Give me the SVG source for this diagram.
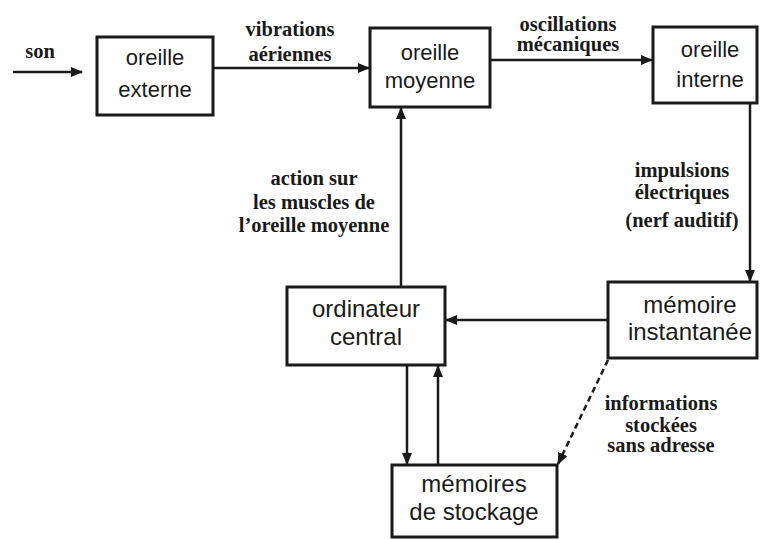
<svg xmlns="http://www.w3.org/2000/svg" width="760" height="540" viewBox="0 0 760 540">
<style>
.box{fill:#fff;stroke:#1a1a1a;stroke-width:3}
.bt{font-family:"Liberation Sans",Arial,sans-serif;font-size:22px;fill:#1a1a1a;text-anchor:middle}
.bt2{font-family:"Liberation Sans",Arial,sans-serif;font-size:24px;fill:#1a1a1a;text-anchor:middle}
.lt{font-family:"Liberation Serif","Times New Roman",serif;font-size:20.5px;fill:#1a1a1a;text-anchor:middle;font-weight:bold}
.ln{fill:none;stroke:#1a1a1a;stroke-width:2.5}
.dash{stroke-dasharray:6,4}
</style>
<defs>
<marker id="ah" viewBox="0 0 12 10" refX="11" refY="5" markerWidth="12" markerHeight="10" markerUnits="userSpaceOnUse" orient="auto">
<path d="M0,0 L12,5 L0,10 Z" fill="#1a1a1a"/>
</marker>
</defs>
<rect width="760" height="540" fill="#fff"/>
<g id="connectors">
<line class="ln" x1="13" y1="72" x2="82" y2="72" marker-end="url(#ah)"/>
<line class="ln" x1="213" y1="68" x2="369" y2="68" marker-end="url(#ah)"/>
<line class="ln" x1="490" y1="60" x2="652" y2="60" marker-end="url(#ah)"/>
<line class="ln" x1="750" y1="103" x2="750" y2="281" marker-end="url(#ah)"/>
<line class="ln" x1="608" y1="320" x2="446" y2="320" marker-end="url(#ah)"/>
<line class="ln" x1="401" y1="287" x2="401" y2="108" marker-end="url(#ah)"/>
<line class="ln" x1="407" y1="365" x2="407" y2="464" marker-end="url(#ah)"/>
<line class="ln" x1="438" y1="465" x2="438" y2="366" marker-end="url(#ah)"/>
<line class="ln dash" x1="608" y1="360" x2="558" y2="464" marker-end="url(#ah)"/>
<text class="lt" x="40" y="58">son</text>
<text class="lt" x="290" y="36">vibrations</text>
<text class="lt" x="290" y="61">aériennes</text>
<text class="lt" x="568" y="31">oscillations</text>
<text class="lt" x="568" y="51">mécaniques</text>
<text class="lt" x="314" y="185">action sur</text>
<text class="lt" x="314" y="209">les muscles de</text>
<text class="lt" x="314" y="232">l’oreille moyenne</text>
<text class="lt" x="682" y="177">impulsions</text>
<text class="lt" x="682" y="199">électriques</text>
<text class="lt" x="682" y="227">(nerf auditif)</text>
<text class="lt" x="661" y="410">informations</text>
<text class="lt" x="661" y="432">stockées</text>
<text class="lt" x="661" y="452">sans adresse</text>
</g>
<g id="oreille-externe">
<rect class="box" x="97" y="37" width="116" height="78"/>
<text class="bt" x="155" y="65">oreille</text>
<text class="bt" x="155" y="97">externe</text>
</g>
<g id="oreille-moyenne">
<rect class="box" x="370" y="28" width="120" height="79"/>
<text class="bt" x="430" y="60">oreille</text>
<text class="bt" x="430" y="88">moyenne</text>
</g>
<g id="oreille-interne">
<rect class="box" x="653" y="27" width="104" height="76"/>
<text class="bt" x="710" y="57">oreille</text>
<text class="bt" x="710" y="87">interne</text>
</g>
<g id="memoire-instantanee">
<rect class="box" x="608" y="282" width="149" height="76"/>
<text class="bt2" x="690" y="313">mémoire</text>
<text class="bt2" x="690" y="340">instantanée</text>
</g>
<g id="ordinateur-central">
<rect class="box" x="287" y="287" width="158" height="78"/>
<text class="bt2" x="366" y="317">ordinateur</text>
<text class="bt2" x="366" y="345">central</text>
</g>
<g id="memoires-stockage">
<rect class="box" x="392" y="465" width="165" height="72"/>
<text class="bt2" x="474" y="492">mémoires</text>
<text class="bt2" x="474" y="520">de stockage</text>
</g>
</svg>
